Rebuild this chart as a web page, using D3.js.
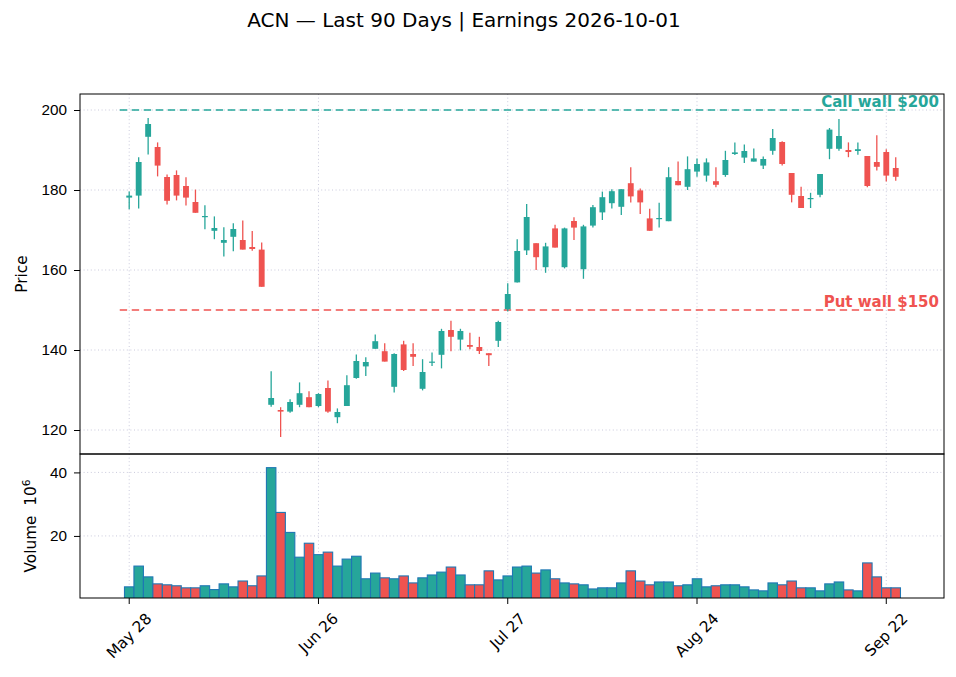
<!DOCTYPE html>
<meta charset="utf-8">
<style>
body { margin: 0; background: #fff; }
svg { font-family: "DejaVu Sans", sans-serif; }
.axis path { display: none; }
.axis text { font-size: 15.3px; fill: #000; }
.axis line { stroke: #000; }
.grid line { stroke: #c4c4d8; stroke-width: 0.9; stroke-dasharray: 1,2.6; }
</style>
<svg width="956" height="677"></svg>
<script src="https://d3js.org/d3.v7.min.js"></script>
<script>
// daily candles, index 0 = May 28
var opens = [178.1,178.6,193.3,190.75,183.25,183.75,181.0,177.0,173.3,169.8,
  166.8,168.3,167.5,165.75,165.1,126.3,125.0,124.6,126.3,128.2,
  126.0,130.5,123.2,126.0,133.0,135.9,140.3,139.7,130.8,141.4,
  139.0,130.3,136.9,138.8,145.0,142.6,141.25,140.75,139.2,142.3,
  150.2,156.9,164.9,166.7,160.7,170.4,160.7,172.25,160.2,171.1,
  174.4,176.7,175.8,181.7,179.9,172.9,172.7,172.2,182.25,180.8,
  184.6,183.6,182.2,183.75,189.0,188.1,187.1,186.1,189.8,192.0,
  184.25,178.5,177.7,178.8,190.3,190.3,190.0,189.75,188.5,187.0,
  189.5,185.5];
var highs = [179.6,188.2,198.0,191.9,183.9,184.9,183.2,180.1,176.2,173.4,
  170.7,171.7,172.4,169.75,166.9,134.7,125.7,127.7,131.9,129.7,
  129.2,132.4,125.4,133.7,138.9,138.2,143.9,141.7,139.2,142.3,
  141.7,137.7,139.4,145.3,147.3,145.3,144.3,143.3,139.2,147.3,
  156.7,167.7,176.5,166.7,166.8,171.3,170.6,173.2,171.3,176.25,
  179.6,180.2,180.2,185.7,180.4,175.3,176.8,185.7,187.1,188.4,
  187.9,187.9,185.7,189.8,191.9,191.4,190.4,188.4,195.25,192.2,
  184.25,180.8,179.3,184.0,195.5,197.75,191.9,191.9,188.5,193.7,
  190.2,188.2];
var lows = [175.2,175.4,188.9,183.4,176.4,177.4,176.1,174.3,170.2,167.7,
  163.4,164.7,165.1,164.8,155.8,125.8,118.25,124.3,125.7,125.7,
  125.7,124.3,121.7,126.0,132.8,133.5,140.3,137.1,129.4,134.75,
  136.0,129.9,136.0,135.4,139.7,139.9,140.2,139.0,136.0,140.75,
  149.6,156.9,163.75,160.0,159.3,165.6,160.4,167.5,157.8,170.6,
  172.5,175.4,173.75,176.9,174.0,169.8,170.6,172.2,181.2,180.0,
  183.3,182.1,180.7,183.3,188.75,186.75,187.1,185.25,188.8,186.1,
  176.9,175.5,175.5,178.2,187.7,189.8,188.2,188.8,180.7,184.9,
  182.1,182.3];
var closes = [178.6,187.0,196.5,186.1,177.3,178.6,178.1,174.3,173.5,170.5,
  167.5,170.25,165.1,165.25,155.8,128.0,124.6,127.0,129.2,125.7,
  129.0,124.6,124.5,131.2,137.25,137.0,142.2,137.1,139.0,135.0,
  138.3,134.5,137.1,144.75,143.3,144.75,140.8,139.75,138.7,147.0,
  154.0,164.75,173.25,163.2,165.9,165.6,170.4,170.6,170.9,175.7,
  178.2,179.7,180.2,178.4,176.9,169.8,173.0,183.2,181.2,185.2,
  186.5,186.9,181.3,187.5,189.4,189.75,187.9,187.75,193.0,186.5,
  178.8,175.5,178.0,184.0,195.1,193.5,189.5,190.2,181.0,185.8,
  183.6,183.3];
// volume in millions
var volumes = [3.96,10.5,7.1,4.9,4.6,4.3,3.65,3.65,4.3,3.1,
  4.9,3.96,5.8,4.3,7.4,41.5,27.4,21.1,13.3,17.7,
  14.1,14.9,10.5,12.7,13.6,6.5,8.3,6.8,6.5,7.4,
  5.2,6.8,7.7,8.6,10.2,7.7,4.6,4.6,9.0,6.15,
  7.4,10.2,10.5,8.3,9.3,6.5,5.2,4.9,4.6,3.3,
  3.65,3.65,5.2,9.0,5.8,4.6,5.5,5.5,4.3,4.6,
  6.5,3.96,4.3,4.6,4.6,3.96,3.0,2.7,5.2,4.6,
  5.8,3.65,3.65,2.7,4.9,5.5,3.0,2.7,11.5,7.1,
  3.65,3.65];

var tickIndex = [0, 20, 40, 60, 80];
var tickLabels = ["May 28", "Jun 26", "Jul 27", "Aug 24", "Sep 22"];
var priceTicks = [120, 140, 160, 180, 200];
var volumeTicks = [20, 40];
var callWall = 200, putWall = 150;

var up = "#26a69a", down = "#ef5350";

var svg = d3.select("svg"),
    left = 80, right = 944,
    pTop = 94, pBottom = 454,
    vTop = 454, vBottom = 598;

var data = opens.map(function(o, i) {
  return {i: i, o: o, h: highs[i], l: lows[i], c: closes[i], v: volumes[i]};
});

var x = d3.scaleLinear().domain([-5.2, 86.1]).range([left, right]);
var y = d3.scaleLinear().domain([114, 204]).range([pBottom, pTop]);
var yv = d3.scaleLinear().domain([0.45, 45.8]).range([vBottom, vTop]);
var step = x(1) - x(0);

svg.append("defs").append("clipPath").attr("id", "clipv")
  .append("rect").attr("x", left).attr("y", vTop).attr("width", right - left).attr("height", vBottom - vTop);

// grids
var grid = svg.append("g").attr("class", "grid");
[[pTop, pBottom], [vTop, vBottom]].forEach(function(r) {
  grid.selectAll(null).data(tickIndex).enter().append("line")
    .attr("x1", function(d) { return x(d); }).attr("x2", function(d) { return x(d); })
    .attr("y1", r[0]).attr("y2", r[1]);
});
grid.selectAll(null).data(priceTicks).enter().append("line")
  .attr("x1", left).attr("x2", right)
  .attr("y1", function(d) { return y(d); }).attr("y2", function(d) { return y(d); });
grid.selectAll(null).data(volumeTicks).enter().append("line")
  .attr("x1", left).attr("x2", right)
  .attr("y1", function(d) { return yv(d); }).attr("y2", function(d) { return yv(d); });

// walls
[[callWall, up], [putWall, down]].forEach(function(w) {
  svg.append("line")
    .attr("x1", x(-1)).attr("x2", x(82))
    .attr("y1", y(w[0])).attr("y2", y(w[0]))
    .attr("stroke", w[1]).attr("stroke-width", 1.6)
    .attr("stroke-dasharray", "7.4,4.6");
});
svg.append("text").attr("x", 939).attr("y", y(callWall) - 3)
  .attr("text-anchor", "end").attr("font-size", 15).attr("font-weight", "bold")
  .attr("fill", up).text("Call wall $" + callWall);
svg.append("text").attr("x", 939).attr("y", y(putWall) - 3)
  .attr("text-anchor", "end").attr("font-size", 15).attr("font-weight", "bold")
  .attr("fill", down).text("Put wall $" + putWall);

// candles
var candle = svg.append("g").selectAll("g").data(data).enter().append("g");
candle.append("line")
  .attr("x1", function(d) { return x(d.i); }).attr("x2", function(d) { return x(d.i); })
  .attr("y1", function(d) { return y(d.h); }).attr("y2", function(d) { return y(d.l); })
  .attr("stroke", function(d) { return d.c >= d.o ? up : down; })
  .attr("stroke-width", 1.3);
candle.append("rect")
  .attr("x", function(d) { return x(d.i) - step * 0.31; })
  .attr("width", step * 0.62)
  .attr("y", function(d) { return y(Math.max(d.o, d.c)); })
  .attr("height", function(d) { return Math.max(1.2, Math.abs(y(d.o) - y(d.c))); })
  .attr("fill", function(d) { return d.c >= d.o ? up : down; });

// volume bars
svg.append("g").attr("clip-path", "url(#clipv)")
  .selectAll("rect").data(data).enter().append("rect")
  .attr("x", function(d) { return x(d.i - 0.5); })
  .attr("width", step)
  .attr("y", function(d) { return yv(d.v); })
  .attr("height", function(d) { return vBottom - yv(d.v) + 2; })
  .attr("fill", function(d) { return d.c >= d.o ? up : down; })
  .attr("stroke", "#1f77b4").attr("stroke-width", 1.1);

// axes
svg.append("g").attr("class", "axis")
  .attr("transform", "translate(" + left + ",0)")
  .call(d3.axisLeft(y).tickValues(priceTicks).tickSize(6).tickPadding(7));
svg.append("g").attr("class", "axis")
  .attr("transform", "translate(" + left + ",0)")
  .call(d3.axisLeft(yv).tickValues(volumeTicks).tickSize(6).tickPadding(7));

var xa = svg.append("g").attr("class", "axis");
xa.selectAll("line").data(tickIndex).enter().append("line")
  .attr("x1", function(d) { return x(d); }).attr("x2", function(d) { return x(d); })
  .attr("y1", vBottom).attr("y2", vBottom + 6);
xa.selectAll("text").data(tickIndex).enter().append("text")
  .attr("text-anchor", "middle").attr("dominant-baseline", "central")
  .text(function(d, k) { return tickLabels[k]; })
  .attr("transform", function(d) {
    var w = this.getComputedTextLength(), h = 15.3 * 0.95;
    var cy = vBottom + 13 + (w + h) / (2 * Math.SQRT2);
    return "translate(" + x(d) + "," + cy + ") rotate(-45)";
  });

// frames
[[pTop, pBottom], [vTop, vBottom]].forEach(function(r) {
  svg.append("rect").attr("x", left).attr("y", r[0])
    .attr("width", right - left).attr("height", r[1] - r[0])
    .attr("fill", "none").attr("stroke", "#000").attr("stroke-width", 1);
});

// labels
svg.append("text").attr("transform", "translate(27," + (pTop + pBottom) / 2 + ") rotate(-90)")
  .attr("text-anchor", "middle").attr("font-size", 15.3).text("Price");
var vl = svg.append("text").attr("transform", "translate(36," + (vTop + vBottom) / 2 + ") rotate(-90)")
  .attr("text-anchor", "middle").attr("font-size", 15.3);
vl.append("tspan").text("Volume\u00a0\u00a010");
vl.append("tspan").attr("font-size", 10.7).attr("dy", -6.5).text("6");

svg.append("text").attr("x", 464).attr("y", 27).attr("text-anchor", "middle")
  .attr("font-size", 20).text("ACN — Last 90 Days | Earnings 2026-10-01");
</script>
